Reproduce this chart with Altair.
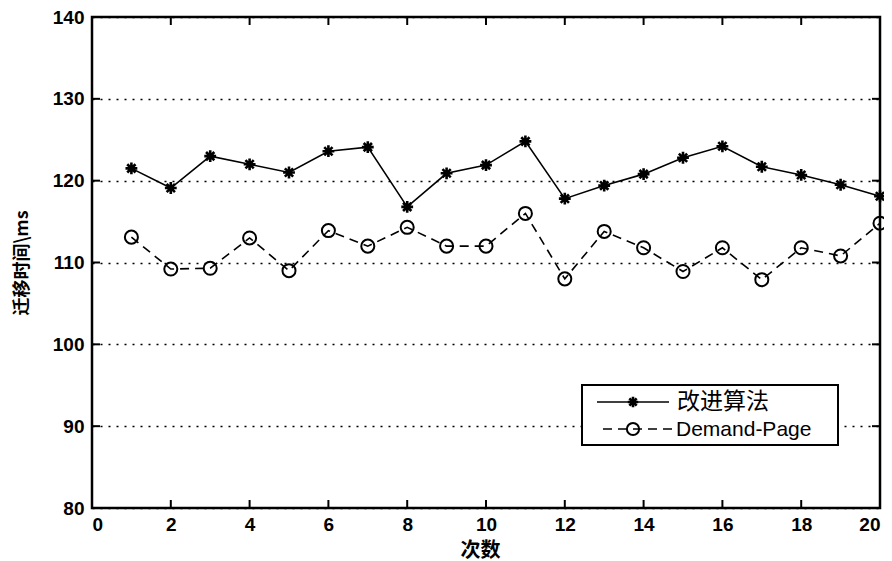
import altair as alt
import pandas as pd

runs = list(range(1, 21))
improved = [121.5, 119.1, 123.0, 122.0, 121.0, 123.6, 124.1, 116.8, 120.9, 121.9,
            124.8, 117.8, 119.4, 120.8, 122.8, 124.2, 121.7, 120.7, 119.5, 118.1]
demand = [113.1, 109.2, 109.3, 113.0, 109.0, 113.9, 112.0, 114.3, 112.0, 112.0,
          116.0, 108.0, 113.8, 111.8, 108.9, 111.8, 107.9, 111.8, 110.8, 114.8]
x_ticks = list(range(0, 21, 2))
y_ticks = list(range(80, 141, 10))
series_names = ["改进算法", "Demand-Page"]

W, H = 788, 491
FONT = "Liberation Sans"
CJK = "Noto Sans CJK SC"

df = pd.DataFrame({"run": runs, "improved": improved, "demand": demand})
xs = alt.Scale(domain=[0, 20], nice=False, zero=False)
ys = alt.Scale(domain=[80, 140], nice=False, zero=False)

STAR = ("M-1,0L1,0M0,-1L0,1M-0.7,-0.7L0.7,0.7M-0.7,0.7L0.7,-0.7")

x_axis = alt.Axis(values=x_ticks, title="次数", titleFont=CJK, titleFontSize=20,
                  titleFontWeight="bold", titleColor="black", titlePadding=6,
                  titleX=388, titleAlign="center",
                  labelFont=FONT, labelFontSize=19, labelColor="black",
                  labelFontWeight="bold", labelPadding=7,
                  tickSize=0, domain=False, grid=False)
y_axis = alt.Axis(values=y_ticks, title="迁移时间\\ms", titleFont=CJK, titleFontSize=18,
                  titleFontWeight="bold", titleColor="black", titlePadding=21,
                  labelFont=FONT, labelFontSize=19, labelColor="black",
                  labelFontWeight="bold", labelPadding=8,
                  tickSize=0, domain=False, grid=True, gridColor="black",
                  gridDash=[2, 6], gridWidth=1.5, gridOpacity=1)

base = alt.Chart(df)

line1 = base.mark_line(color="black", strokeWidth=1.6).encode(
    x=alt.X("run:Q", scale=xs, axis=x_axis),
    y=alt.Y("improved:Q", scale=ys, axis=y_axis))
pts1 = base.mark_point(shape=STAR, size=140, color="black", strokeWidth=2.6,
                       filled=False, opacity=1).encode(
    x=alt.X("run:Q", scale=xs), y=alt.Y("improved:Q", scale=ys))
line2 = base.mark_line(color="black", strokeWidth=1.6, strokeDash=[9, 6]).encode(
    x=alt.X("run:Q", scale=xs), y=alt.Y("demand:Q", scale=ys))
pts2 = base.mark_point(shape="circle", size=170, color="black", strokeWidth=2,
                       filled=False, opacity=1).encode(
    x=alt.X("run:Q", scale=xs), y=alt.Y("demand:Q", scale=ys))

# inward ticks (MATLAB style)
xt = pd.DataFrame({"x": x_ticks})
yt = pd.DataFrame({"y": y_ticks})
tick_b = alt.Chart(xt).mark_rule(color="black", strokeWidth=2).encode(
    x=alt.X("x:Q", scale=xs), y=alt.value(H), y2=alt.value(H - 8))
tick_t = alt.Chart(xt).mark_rule(color="black", strokeWidth=2).encode(
    x=alt.X("x:Q", scale=xs), y=alt.value(0), y2=alt.value(8))
tick_l = alt.Chart(yt).mark_rule(color="black", strokeWidth=2).encode(
    y=alt.Y("y:Q", scale=ys), x=alt.value(0), x2=alt.value(8))
tick_r = alt.Chart(yt).mark_rule(color="black", strokeWidth=2).encode(
    y=alt.Y("y:Q", scale=ys), x=alt.value(W), x2=alt.value(W - 8))

# legend
one = pd.DataFrame({"a": [0]})
LX0, LX1, LY0, LY1 = 490, 746, 368, 428
leg_box = alt.Chart(one).mark_rect(
    fill="white", stroke="black", strokeWidth=2).encode(
    x=alt.value(LX0), x2=alt.value(LX1), y=alt.value(LY0), y2=alt.value(LY1))
leg_l1 = alt.Chart(one).mark_rule(color="black", strokeWidth=1.6).encode(
    x=alt.value(505), x2=alt.value(577), y=alt.value(385))
leg_p1 = alt.Chart(one).mark_point(
    shape=STAR, size=110, color="black", strokeWidth=2.6, filled=False, opacity=1).encode(
    x=alt.value(541), y=alt.value(385))
leg_l2 = alt.Chart(one).mark_rule(
    color="black", strokeWidth=1.6, strokeDash=[9, 6]).encode(
    x=alt.value(511), x2=alt.value(580), y=alt.value(412))
leg_p2 = alt.Chart(one).mark_point(
    shape="circle", size=150, color="black", strokeWidth=2, filled=False, opacity=1).encode(
    x=alt.value(541), y=alt.value(412))
leg_t1 = alt.Chart(pd.DataFrame({"t": [series_names[0]]})).mark_text(
    align="left", baseline="middle", color="black", font=CJK, fontSize=23).encode(
    x=alt.value(585), y=alt.value(385), text="t:N")
leg_t2 = alt.Chart(pd.DataFrame({"t": [series_names[1]]})).mark_text(
    align="left", baseline="middle", color="black", font=FONT, fontSize=21).encode(
    x=alt.value(584), y=alt.value(413), text="t:N")

chart = alt.layer(line1, line2, pts1, pts2, tick_b, tick_t, tick_l, tick_r,
                  leg_box, leg_l1, leg_l2, leg_p1, leg_p2, leg_t1, leg_t2).properties(
    width=W, height=H,
    autosize=alt.AutoSizeParams(type="none"),
    padding={"left": 84, "top": 9, "right": 4, "bottom": 53},
    background="white",
).configure_view(stroke="black", strokeWidth=2.5)

chart.save("out.html", embed_options={"renderer": "svg", "actions": False})
